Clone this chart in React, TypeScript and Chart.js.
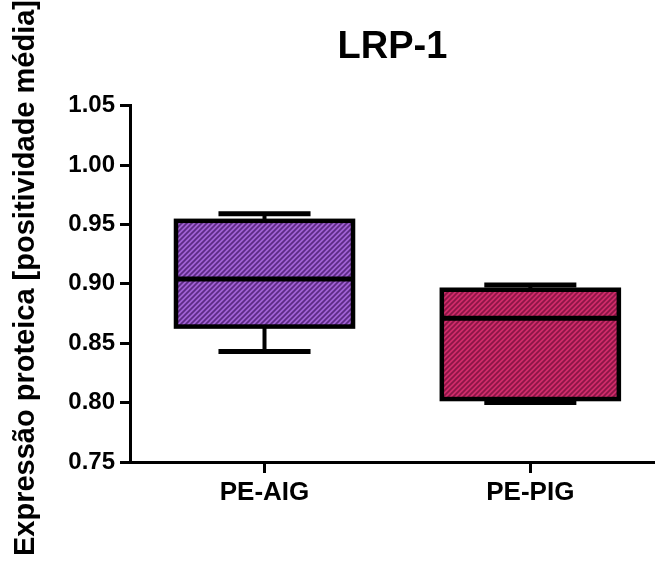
import React, { useEffect, useRef } from "react";
import { Chart, registerables } from "chart.js";

Chart.register(...registerables);

// ---- data ----
const CATEGORIES = ["PE-AIG", "PE-PIG"];
const POSITIONS = [1, 2];
const MINS = [0.843, 0.8];
const Q1S = [0.864, 0.803];
const MEDIANS = [0.904, 0.871];
const Q3S = [0.953, 0.895];
const MAXS = [0.959, 0.899];
const Y_TICKS = [0.75, 0.8, 0.85, 0.9, 0.95, 1.0, 1.05];
const TITLE = "LRP-1";
const Y_TITLE = "Expressão proteica [positividade média]";

// ---- styles ----
const FONT = "'Liberation Sans', Arial, Helvetica, sans-serif";
const HATCH = [
  { light: "#a262d4", dark: "#5c2a84" },
  { light: "#d02c6a", dark: "#8a1646" },
];
const CAP_FRACTION = 0.52;

function makeHatch(light: string, dark: string): CanvasPattern | string {
  const s = 5;
  const c = document.createElement("canvas");
  c.width = s;
  c.height = s;
  const g = c.getContext("2d");
  if (!g) return light;
  g.fillStyle = light;
  g.fillRect(0, 0, s, s);
  g.strokeStyle = dark;
  g.lineWidth = 1.7;
  g.beginPath();
  g.moveTo(0, s);
  g.lineTo(s, 0);
  g.moveTo(-1, 1);
  g.lineTo(1, -1);
  g.moveTo(s - 1, s + 1);
  g.lineTo(s + 1, s - 1);
  g.stroke();
  const p = g.createPattern(c, "repeat");
  return p || light;
}

const boxPlugin = {
  id: "boxWhiskers",
  afterDatasetsDraw(chart: any) {
    const { ctx } = chart;
    const xs = chart.scales.x;
    const ys = chart.scales.y;
    const meta = chart.getDatasetMeta(0);
    ctx.save();
    ctx.strokeStyle = "#000";
    ctx.lineCap = "butt";
    meta.data.forEach((el: any, i: number) => {
      const { x, y, base, width } = el.getProps(["x", "y", "base", "width"], true);
      const left = x - width / 2;
      const right = x + width / 2;
      const top = Math.min(y, base);
      const bottom = Math.max(y, base);
      const capHalf = (width * CAP_FRACTION) / 2;
      const yMax = ys.getPixelForValue(MAXS[i]);
      const yMin = ys.getPixelForValue(MINS[i]);
      const yMed = ys.getPixelForValue(MEDIANS[i]);
      const cx = xs.getPixelForValue(POSITIONS[i]);
      // whiskers
      ctx.lineWidth = 4;
      ctx.beginPath();
      ctx.moveTo(cx, top);
      ctx.lineTo(cx, yMax);
      ctx.moveTo(cx, bottom);
      ctx.lineTo(cx, yMin);
      ctx.stroke();
      ctx.lineWidth = 5;
      ctx.beginPath();
      ctx.moveTo(cx - capHalf, yMax);
      ctx.lineTo(cx + capHalf, yMax);
      ctx.moveTo(cx - capHalf, yMin);
      ctx.lineTo(cx + capHalf, yMin);
      ctx.stroke();
      // box outline
      ctx.lineWidth = 4.5;
      ctx.strokeRect(left, top, right - left, bottom - top);
      // median
      ctx.lineWidth = 5;
      ctx.beginPath();
      ctx.moveTo(left, yMed);
      ctx.lineTo(right, yMed);
      ctx.stroke();
    });
    ctx.restore();
  },
};

const yTitlePlugin = {
  id: "yTitle",
  afterDraw(chart: any) {
    const { ctx } = chart;
    ctx.save();
    ctx.translate(26, 278);
    ctx.rotate(-Math.PI / 2);
    ctx.font = `bold 29px ${FONT}`;
    ctx.fillStyle = "#000";
    ctx.textAlign = "center";
    ctx.textBaseline = "middle";
    ctx.fillText(Y_TITLE, 0, 0);
    ctx.restore();
  },
};

export default function App() {
  const ref = useRef<HTMLCanvasElement>(null);

  useEffect(() => {
    const canvas = ref.current;
    if (!canvas) return;
    const ctx = canvas.getContext("2d");
    if (!ctx) return;
    const patterns = HATCH.map((h) => makeHatch(h.light, h.dark));

    const chart = new Chart(ctx, {
      type: "bar",
      data: {
        datasets: [
          {
            data: POSITIONS.map((p, i) => ({ x: p, y: [Q1S[i], Q3S[i]] })) as any,
            backgroundColor: patterns as any,
            borderWidth: 0,
            categoryPercentage: 1,
            barPercentage: 0.666,
          },
        ],
      },
      options: {
        animation: false,
        responsive: false,
        devicePixelRatio: 1,
        layout: { padding: 0 },
        plugins: {
          legend: { display: false },
          tooltip: { enabled: false },
          title: {
            display: true,
            text: TITLE,
            color: "#000",
            fullSize: false,
            font: { family: FONT, size: 38, weight: "bold" },
            padding: { top: 25, bottom: 35 },
          },
        },
        scales: {
          x: {
            type: "linear",
            min: 0.494,
            max: 2.469,
            offset: false,
            afterFit: (scale: any) => {
              scale.height = 102;
            },
            afterBuildTicks: (scale: any) => {
              scale.ticks = POSITIONS.map((v) => ({ value: v }));
            },
            ticks: {
              color: "#000",
              padding: 4,
              font: { family: FONT, size: 26, weight: "bold" },
              callback: (_v: any, i: number) => CATEGORIES[i],
              maxRotation: 0,
              autoSkip: false,
            },
            grid: {
              display: true,
              offset: false,
              color: "#000",
              lineWidth: 3,
              drawOnChartArea: false,
              drawTicks: true,
              tickLength: 11,
              tickWidth: 3,
              tickColor: "#000",
            },
            border: { display: true, color: "#000", width: 3 },
          },
          y: {
            type: "linear",
            min: 0.75,
            max: 1.05,
            afterFit: (scale: any) => {
              scale.width = 130;
            },
            afterBuildTicks: (scale: any) => {
              scale.ticks = Y_TICKS.map((v) => ({ value: v }));
            },
            ticks: {
              color: "#000",
              padding: 5,
              font: { family: FONT, size: 24, weight: "bold" },
              callback: (v: any) => Number(v).toFixed(2),
              autoSkip: false,
            },
            grid: {
              display: true,
              drawOnChartArea: false,
              drawTicks: true,
              tickLength: 10,
              tickWidth: 3,
              tickColor: "#000",
            },
            border: { display: true, color: "#000", width: 3 },
          },
        },
      },
      plugins: [boxPlugin, yTitlePlugin],
    });

    return () => chart.destroy();
  }, []);

  return (
    <div
      style={{
        position: "absolute",
        left: 0,
        top: 0,
        width: 655,
        height: 564,
        background: "#fff",
      }}
    >
      <canvas
        ref={ref}
        width={655}
        height={564}
        style={{ width: 655, height: 564, display: "block" }}
      />
    </div>
  );
}
